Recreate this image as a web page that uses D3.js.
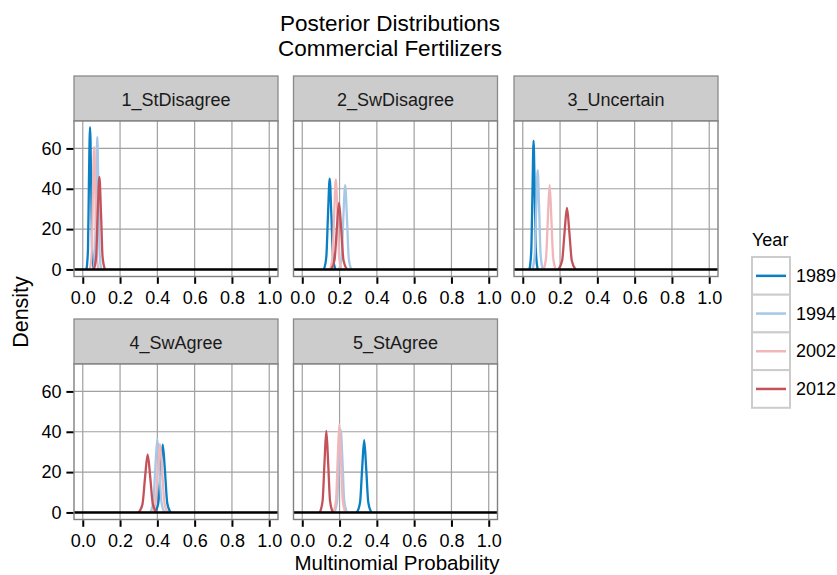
<!DOCTYPE html>
<html>
<head>
<meta charset="utf-8">
<script src="https://cdn.jsdelivr.net/npm/d3@7"></script>
<style>
  body { margin: 0; background: #fff; }
  text { font-family: "Liberation Sans", Arial, Helvetica, sans-serif; }
</style>
</head>
<body>
<div id="chart"></div>
<script>
// categories
const panelNames = ["1_StDisagree", "2_SwDisagree", "3_Uncertain", "4_SwAgree", "5_StAgree"];
const years = ["1989", "1994", "2002", "2012"];
const xTicks = [0, 0.2, 0.4, 0.6, 0.8, 1.0];
const yTicks = [0, 20, 40, 60];

// posterior density curves, one entry per panel
const dens1989 = [
    { x: [0.020, 0.028, 0.033, 0.039, 0.045, 0.050, 0.058], y: [0, 10, 43, 70.5, 43, 10, 0] },
    { x: [0.116, 0.129, 0.138, 0.147, 0.156, 0.165, 0.178], y: [0, 6.3, 27, 45, 27, 6.3, 0] },
    { x: [0.036, 0.0455, 0.052, 0.058, 0.064, 0.0705, 0.080], y: [0, 9, 38, 63.8, 38, 9, 0] },
    { x: [0.387, 0.405, 0.417, 0.429, 0.441, 0.453, 0.471], y: [0, 4.7, 20.2, 33.6, 20.2, 4.7, 0] },
    { x: [0.293, 0.310, 0.321, 0.332, 0.343, 0.354, 0.371], y: [0, 5, 21.5, 35.8, 21.5, 5, 0] }
];
const dens1994 = [
    { x: [0.057, 0.066, 0.072, 0.078, 0.084, 0.090, 0.099], y: [0, 9, 39, 65.7, 39, 9, 0] },
    { x: [0.197, 0.211, 0.220, 0.230, 0.240, 0.249, 0.263], y: [0, 5.9, 25, 41.8, 25, 5.9, 0] },
    { x: [0.052, 0.064, 0.072, 0.080, 0.088, 0.096, 0.108], y: [0, 7, 29.5, 49.2, 29.5, 7, 0] },
    { x: [0.362, 0.378, 0.389, 0.400, 0.411, 0.422, 0.438], y: [0, 5.1, 21.8, 36.3, 21.8, 5.1, 0] },
    { x: [0.172, 0.187, 0.196, 0.206, 0.216, 0.225, 0.240], y: [0, 5.7, 24.6, 41, 24.6, 5.7, 0] }
];
const dens2002 = [
    { x: [0.038, 0.048, 0.054, 0.061, 0.068, 0.074, 0.084], y: [0, 8.5, 36.5, 60.8, 36.5, 8.5, 0] },
    { x: [0.149, 0.162, 0.171, 0.180, 0.189, 0.198, 0.211], y: [0, 6.2, 26.8, 44.6, 26.8, 6.2, 0] },
    { x: [0.111, 0.125, 0.1345, 0.144, 0.1535, 0.163, 0.177], y: [0, 5.9, 25, 41.8, 25, 5.9, 0] },
    { x: [0.373, 0.390, 0.402, 0.414, 0.426, 0.438, 0.455], y: [0, 4.7, 20.3, 33.8, 20.3, 4.7, 0] },
    { x: [0.167, 0.181, 0.190, 0.199, 0.208, 0.217, 0.231], y: [0, 6.1, 26.2, 43.7, 26.2, 6.1, 0] }
];
const dens2012 = [
    { x: [0.059, 0.072, 0.080, 0.089, 0.098, 0.106, 0.119], y: [0, 6.5, 27.5, 45.9, 27.5, 6.5, 0] },
    { x: [0.155, 0.173, 0.185, 0.197, 0.209, 0.221, 0.239], y: [0, 4.6, 19.8, 33, 19.8, 4.6, 0] },
    { x: [0.191, 0.211, 0.224, 0.237, 0.250, 0.263, 0.283], y: [0, 4.3, 18.3, 30.5, 18.3, 4.3, 0] },
    { x: [0.299, 0.320, 0.334, 0.348, 0.362, 0.376, 0.397], y: [0, 4, 17.3, 28.8, 17.3, 4, 0] },
    { x: [0.094, 0.109, 0.119, 0.129, 0.139, 0.149, 0.164], y: [0, 5.7, 24.2, 40.4, 24.2, 5.7, 0] }
];
const densities = [dens1989, dens1994, dens2002, dens2012];

const width = 837;
const height = 575;

const panelW = 204;
const stripH = 45;
const plotH = 155.5;
const colX = [74, 293.5, 514];
const rowY = [76, 319];

const color = d3.scaleOrdinal()
    .domain(years)
    .range(["#0b7fc4", "#a7c7e7", "#f1b6b9", "#c4525a"]);

const x = d3.scaleLinear().domain([-0.047, 1.047]).range([0, panelW]);
const y = d3.scaleLinear().domain([-3.5, 73.6]).range([plotH, 0]);

const svg = d3.select("#chart")
    .append("svg")
    .attr("width", width)
    .attr("height", height);

const line = d3.line()
    .x(d => x(d[0]))
    .y(d => y(d[1]))
    .curve(d3.curveMonotoneX);

panelNames.forEach((name, i) => {
    const col = i % 3, row = Math.floor(i / 3);
    const g = svg.append("g").attr("transform", `translate(${colX[col]},${rowY[row]})`);

    // strip
    g.append("rect")
        .attr("width", panelW).attr("height", stripH)
        .attr("fill", "#cccccc").attr("stroke", "#8a8a8a").attr("stroke-width", 1.3);
    g.append("text")
        .attr("x", panelW / 2).attr("y", stripH / 2 + 1)
        .attr("text-anchor", "middle").attr("dominant-baseline", "central")
        .attr("font-size", "18px").attr("fill", "#1a1a1a")
        .text(name);

    const p = g.append("g").attr("transform", `translate(0,${stripH})`);
    p.append("rect").attr("width", panelW).attr("height", plotH).attr("fill", "#fff");

    // grid
    p.selectAll(".vg").data(xTicks).enter().append("line")
        .attr("x1", d => x(d)).attr("x2", d => x(d))
        .attr("y1", 0).attr("y2", plotH)
        .attr("stroke", "#a0a0a0").attr("stroke-width", 1.2);
    p.selectAll(".hg").data(yTicks).enter().append("line")
        .attr("x1", 0).attr("x2", panelW)
        .attr("y1", d => y(d)).attr("y2", d => y(d))
        .attr("stroke", "#a0a0a0").attr("stroke-width", 1.2);

    // density curves
    densities.forEach((dens, j) => {
        const c = dens[i];
        p.append("path")
            .datum(c.x.map((v, k) => [v, c.y[k]]))
            .attr("d", line)
            .attr("fill", "none")
            .attr("stroke", color(years[j]))
            .attr("stroke-width", 2.3);
    });

    // zero line
    p.append("line")
        .attr("x1", 0).attr("x2", panelW)
        .attr("y1", y(0)).attr("y2", y(0))
        .attr("stroke", "#000").attr("stroke-width", 2.4);

    p.append("rect")
        .attr("width", panelW).attr("height", plotH)
        .attr("fill", "none").attr("stroke", "#808080").attr("stroke-width", 1.4);

    // x axis
    const xa = p.append("g")
        .attr("transform", `translate(0,${plotH + 0.8})`)
        .call(d3.axisBottom(x).tickValues(xTicks).tickFormat(d3.format(".1f"))
            .tickSize(6.5).tickPadding(7.6));
    xa.select(".domain").remove();
    xa.selectAll(".tick line").attr("stroke", "#000").attr("stroke-width", 2);
    xa.selectAll("text").attr("font-size", "18px").attr("fill", "#000")
        .style("font-family", '"Liberation Sans", Arial, sans-serif');

    // y axis on first column
    if (col === 0) {
        const ya = p.append("g")
            .attr("transform", "translate(-0.6,0)")
            .call(d3.axisLeft(y).tickValues(yTicks).tickSize(7).tickPadding(4.8));
        ya.select(".domain").remove();
        ya.selectAll(".tick line").attr("stroke", "#000").attr("stroke-width", 2);
        ya.selectAll("text").attr("font-size", "18px").attr("fill", "#000")
            .style("font-family", '"Liberation Sans", Arial, sans-serif');
    }
});

// titles
svg.append("text")
    .attr("x", 390).attr("y", 31)
    .attr("text-anchor", "middle").attr("font-size", "22.5px").attr("fill", "#000")
    .text("Posterior Distributions");
svg.append("text")
    .attr("x", 390).attr("y", 56)
    .attr("text-anchor", "middle").attr("font-size", "22.5px").attr("fill", "#000")
    .text("Commercial Fertilizers");

svg.append("text")
    .attr("x", 397).attr("y", 570)
    .attr("text-anchor", "middle").attr("font-size", "20.5px").attr("fill", "#000")
    .text("Multinomial Probability");

svg.append("text")
    .attr("transform", "translate(28,312) rotate(-90)")
    .attr("text-anchor", "middle").attr("font-size", "21.5px").attr("fill", "#000")
    .text("Density");

// legend
const legend = svg.append("g").attr("transform", "translate(752,257)");
legend.append("text")
    .attr("x", 0).attr("y", -11)
    .attr("font-size", "18px").attr("fill", "#000")
    .text("Year");
const keyH = 37.7;
years.forEach((yr, j) => {
    const k = legend.append("g").attr("transform", `translate(0,${j * keyH})`);
    k.append("rect")
        .attr("width", 38).attr("height", keyH)
        .attr("fill", "#fff").attr("stroke", "#cccccc").attr("stroke-width", 2);
    k.append("line")
        .attr("x1", 4).attr("x2", 34)
        .attr("y1", keyH / 2).attr("y2", keyH / 2)
        .attr("stroke", color(yr)).attr("stroke-width", 2.5);
    k.append("text")
        .attr("x", 44).attr("y", keyH / 2)
        .attr("dominant-baseline", "central")
        .attr("font-size", "18px").attr("fill", "#000")
        .text(yr);
});
</script>
</body>
</html>
